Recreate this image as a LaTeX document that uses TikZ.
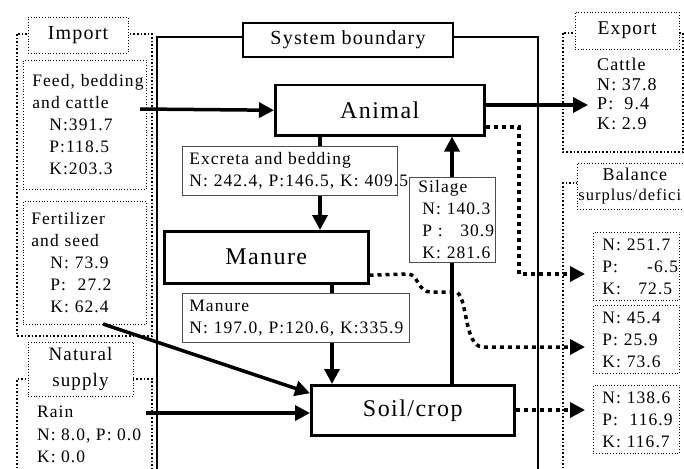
\documentclass[tikz,border=0pt]{standalone}
\usepackage{fontspec}
\setmainfont{Liberation Serif}[LetterSpace=6]
\usepackage{tikz}
\usetikzlibrary{arrows.meta}
\usetikzlibrary{positioning}

\begin{document}
\begin{tikzpicture}[x=1pt,y=-1pt,
  font=\fontsize{17.5}{22}\selectfont,
  proc/.style={draw,line width=2.5pt,fill=white,anchor=north west,font=\fontsize{24}{28}\selectfont},
  lbl/.style={draw=black!70,line width=0.8pt,fill=white,align=left,anchor=north west,inner ysep=0pt},
  dbox/.style={draw,dotted,line width=0.8pt,fill=white,align=left,anchor=north west,inner ysep=0pt},
  ttl/.style={draw,dotted,line width=0.8pt,fill=white,align=center,font=\fontsize{20}{26}\selectfont},
  frame/.style={dotted,line width=1.6pt},
  flow/.style={line width=3.5pt,-{Triangle[length=15pt,width=15pt]}},
  dflow/.style={line width=3.5pt,dash pattern=on 4pt off 4pt,-{Triangle[length=15pt,width=15pt]}}]
  \useasboundingbox (0,0) rectangle (684,468);
  \clip (0,0) rectangle (684,468);

  % frames and system boundary
  \draw[frame] (17,34) rectangle (152,336);
  \draw[frame] (17,490) |- (152,379) -- (152,490);
  \draw[frame] (563,33) rectangle (683,152);
  \draw[frame] (563,490) |- (700,183);
  \draw[line width=2.5pt] (157,37) rectangle (538,490);

  % titles
  \node[draw,line width=2.5pt,fill=white,minimum width=210,minimum height=34,font=\fontsize{20}{26}\selectfont] (sysb) at (348,40) {System boundary};
  \node[ttl,minimum width=100,minimum height=36] (import) at (78,35) {Import};
  \node[ttl,minimum width=105,minimum height=54,font=\fontsize{19}{26}\selectfont] (natural) at (80.5,369) {Natural\\supply};
  \node[ttl,minimum width=104,minimum height=37,font=\fontsize{19.5}{26}\selectfont] (export) at (627,30.5) {Export};
  \node[ttl,anchor=west,inner xsep=1pt,minimum height=46,font=\fontsize{18}{20}\selectfont] (balance) at (577,186)
    {Balance\\\makebox[113pt][l]{\fontsize{16.5}{20}\selectfont surplus/defici}};

  % compartments
  \node[proc,minimum width=209,minimum height=50] (animal) at (274,84) {Animal};
  \node[proc,minimum width=204,minimum height=52] (manure) at (163,230) {Manure};
  \node[proc,minimum width=203,minimum height=50] (soil) at (310,384) {Soil/crop};

  % import and balance boxes
  \node[dbox,inner xsep=9pt,text width=105,minimum height=129] (feed) at (23,60)
    {\mbox{Feed, bedding}\\and cattle\\\hspace*{17pt}N:391.7\\\hspace*{17pt}P:118.5\\\hspace*{17pt}K:203.3};
  \node[dbox,inner xsep=8pt,text width=107,minimum height=123] (fert) at (23,201)
    {Fertilizer\\and seed\\\hspace*{19pt}N: 73.9\\\hspace*{19pt}P:~~27.2\\\hspace*{19pt}K: 62.4};
  \node[dbox,inner xsep=9pt,text width=68,minimum height=68] (bal1) at (593,232)
    {\mbox{N: 251.7}\\\mbox{P:~~~~~-6.5}\\\mbox{K:~~~72.5}};
  \node[dbox,inner xsep=9pt,text width=68,minimum height=68] (bal2) at (593,305)
    {N: 45.4\\P: 25.9\\K: 73.6};
  \node[dbox,inner xsep=9pt,text width=68,minimum height=68] (bal3) at (593,385)
    {\mbox{N: 138.6}\\\mbox{P:~~116.9}\\\mbox{K: 116.7}};

  % flows
  \coordinate (turn) at (519,127);
  \coordinate (b1) at (585,274);
  \coordinate (b2) at (585,347);
  \coordinate (b3) at (585,410);
  \draw[dflow] (animal.east |- turn) -- (turn) |- (b1);
  \draw[dflow] ([yshift=-18pt]manure.east) -- (408,274) .. controls (418,274) and (418,292) .. (430,292)
    -- (455,292) .. controls (468,292) and (463,347) .. (483,347) -- (b2);
  \draw[dflow] (soil.east |- b3) -- (b3);

  \coordinate (feedout) at (140,109);
  \coordinate (cattlein) at (588,105);
  \coordinate (fertout) at (103,324);
  \coordinate (rainout) at (146,413);
  \coordinate (ex) at (320,0);
  \coordinate (mx) at (332,0);
  \coordinate (sx) at (452,0);
  \draw[flow] (feedout) -- (animal.west);
  \draw[flow] (animal.east |- cattlein) -- (cattlein);
  \draw[flow] (animal.south -| ex) -- (manure.north -| ex);
  \draw[flow] (manure.south -| mx) -- (soil.north -| mx);
  \draw[flow] (soil.north -| sx) -- (animal.south -| sx);
  \draw[flow] (fertout) -- ([yshift=17pt]soil.west);
  \draw[flow] (rainout) -- (soil.west |- rainout);

  % flow labels
  \node[lbl,inner xsep=7pt,text width=201,minimum height=49] (excreta) at (182,146)
    {Excreta and bedding\\\mbox{N: 242.4, P:146.5, K: 409.5}};
  \node[lbl,inner xsep=9pt,text width=68,minimum height=85] (silage) at (409,177)
    {Silage\\\hspace*{4pt}\mbox{N: 140.3}\\\hspace*{4pt}\mbox{P :~~~30.9}\\\hspace*{4pt}\mbox{K: 281.6}};
  \node[lbl,inner xsep=7pt,text width=213,minimum height=49] (manlbl) at (182,293)
    {Manure\\\mbox{N: 197.0, P:120.6, K:335.9}};

  % free texts
  \node[anchor=north west,inner sep=0pt,align=left,font=\fontsize{18}{19.5}\selectfont] (cattle) at (597,58)
    {Cattle\\N: 37.8\\P:~~9.4\\K:~2.9};
  \node[anchor=north west,inner sep=0pt,align=left,font=\fontsize{17.5}{22.5}\selectfont] (rain) at (37,406)
    {Rain\\N: 8.0, P: 0.0\\K: 0.0};
\end{tikzpicture}
\end{document}
